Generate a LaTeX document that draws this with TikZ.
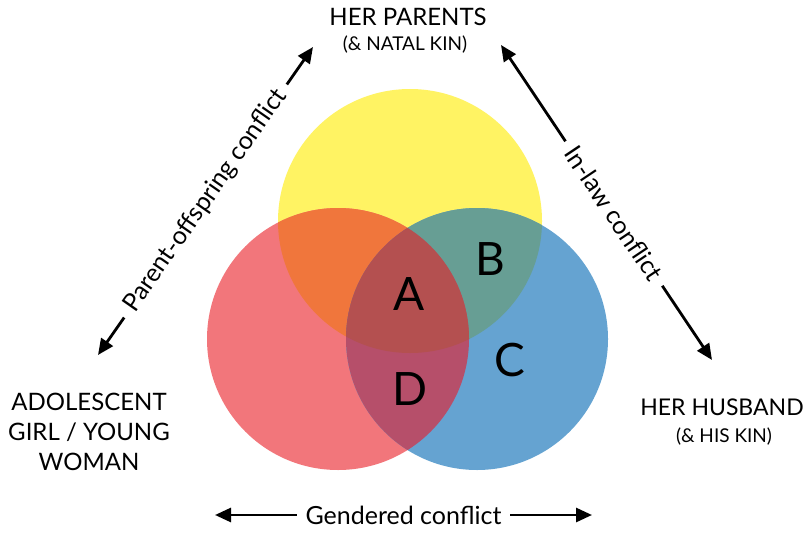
\documentclass[tikz,border=0pt]{standalone}
\usepackage{fontspec}
\setmainfont{Lato}
\usetikzlibrary{arrows.meta,positioning}
\definecolor{herparents}{RGB}{255,243,99}
\definecolor{girl}{RGB}{242,118,123}
\definecolor{husband}{RGB}{101,163,209}
\definecolor{girlparents}{RGB}{240,118,60}
\definecolor{parentshusband}{RGB}{103,158,148}
\definecolor{girlhusband}{RGB}{182,79,106}
\definecolor{allthree}{RGB}{180,80,80}
\tikzset{
>={Triangle[length=16pt, width=14pt]},
  party/.style={
    font=\fontsize{24}{30}\selectfont,
    align=center,
    inner sep=0pt,
    anchor=base},
  kin/.style={
    font=\fontsize{19}{22}\selectfont,
    inner sep=0pt,
    anchor=base},
  region/.style={
    font=\fontsize{46}{50}\selectfont,
    inner sep=0pt,
    anchor=base},
  conflict/.style={<->, line width=2.8pt},
  tag/.style={
    fill=white,
    font=\fontsize{25}{28}\selectfont,
    inner xsep=9pt, inner ysep=3pt,
    midway, sloped},
}
\begin{document}
\begin{tikzpicture}[x=1pt, y=-1pt]
  \useasboundingbox (0,0) rectangle (810,532);
  % centres of the three circles
  \coordinate (ycentre) at (410,221);
  \coordinate (rcentre) at (338,339);
  \coordinate (bcentre) at (477,339);
  %% First the plain circles
  \fill[herparents] (ycentre) circle (132pt);
  \fill[girl]       (rcentre) circle (131pt);
  \fill[husband]    (bcentre) circle (131pt);
  %% Now the overlaps
  \begin{scope}
    \clip (ycentre) circle (132pt);
    \fill[girlparents]    (rcentre) circle (131pt);
    \fill[parentshusband] (bcentre) circle (131pt);
  \end{scope}
  \begin{scope}
    \clip (rcentre) circle (131pt);
    \fill[girlhusband] (bcentre) circle (131pt);
    \clip (ycentre) circle (132pt);
    \fill[allthree] (bcentre) circle (131pt);
  \end{scope}
  % letters for the regions
  \node[region] (A) at (409,310) {A};
  \node[region] (B) at (490,275) {B};
  \node[region] (C) at (510,376) {C};
  \node[region] (D) at (410,405) {D};
  % the three parties
  \node[party] (parents) at (408,26) {HER PARENTS};
  \node[kin] (natal) at (405,51) {(\& NATAL KIN)};
  \node[party] (adolescent) at (89,470) {ADOLESCENT\\GIRL / YOUNG\\WOMAN};
  \node[party, font=\fontsize{23}{30}\selectfont] (hubby) at (722,415) {HER HUSBAND};
  \node[kin] (hiskin) at (724,442) {(\& HIS KIN)};
  % arrow ends
  \coordinate (pokid) at (98,355);
  \coordinate (popar) at (313,47);
  \coordinate (ilpar) at (501,45);
  \coordinate (ilhub) at (712,360);
  \coordinate (gdleft) at (215,515);
  \coordinate (gdright) at (592,515);
  %% The conflicts
  \draw[conflict] (pokid) -- (popar) node[tag] (po) {Parent-offspring conflict};
  \draw[conflict] (ilpar) -- (ilhub) node[tag, pos=.535] (il) {In-law conflict};
  \draw[conflict] (gdleft) -- (gdright) node[tag] (gd) {Gendered conflict};
\end{tikzpicture}
\end{document}
